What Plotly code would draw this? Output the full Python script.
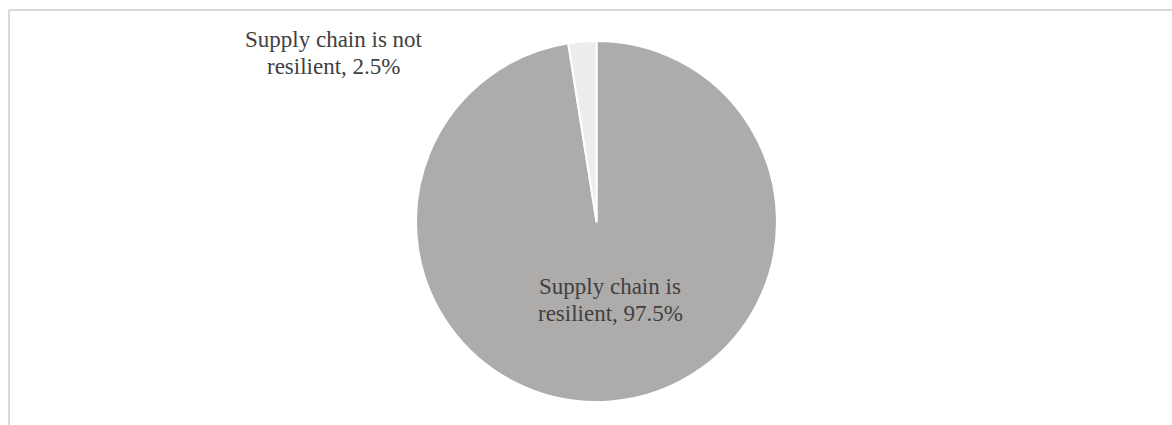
import plotly.graph_objects as go

# Survey result: share of respondents by supply-chain resilience
categories = ["Supply chain is resilient", "Supply chain is not resilient"]
shares = [97.5, 2.5]
# how each category label is split across lines
label_lines = [["Supply chain is", "resilient"], ["Supply chain is not", "resilient"]]

slice_colors = ["#aeabab", "#ededed"]
text_color = "#404040"
font_family = "Liberation Serif, Times New Roman, serif"

W, H = 1172, 425

fig = go.Figure(
    go.Pie(
        labels=categories,
        values=shares,
        sort=False,
        direction="clockwise",
        rotation=0,
        textinfo="none",
        hoverinfo="label+percent",
        marker=dict(colors=slice_colors, line=dict(color="white", width=2)),
        domain=dict(x=[416 / W, 777 / W], y=[23 / H, 384 / H]),
        showlegend=False,
    )
)

# label anchor points (pixel centre x, first-line baseline y from top)
anchors = [(610, 296), (334, 49)]
line_gap = 27
font_size = 23

annotations = []
for lines, share, (cx, base) in zip(label_lines, shares, anchors):
    texts = lines[:-1] + [f"{lines[-1]}, {share:.1f}%"]
    for i, t in enumerate(texts):
        y_px = base + i * line_gap
        annotations.append(
            dict(
                text=t,
                x=cx / W,
                y=1 - y_px / H,
                xref="paper",
                yref="paper",
                xanchor="center",
                yanchor="bottom",
                yshift=-5,
                showarrow=False,
                font=dict(family=font_family, size=font_size, color=text_color),
            )
        )

fig.update_layout(
    width=W,
    height=H,
    margin=dict(l=0, r=0, t=0, b=0),
    paper_bgcolor="white",
    plot_bgcolor="white",
    annotations=annotations,
    shapes=[
        dict(type="line", xref="paper", yref="paper",
             x0=9 / W, x1=1.0, y0=1 - 10 / H, y1=1 - 10 / H,
             line=dict(color="#d9d9d9", width=2)),
        dict(type="line", xref="paper", yref="paper",
             x0=9 / W, x1=9 / W, y0=0, y1=1 - 10 / H,
             line=dict(color="#d9d9d9", width=2)),
    ],
)

fig.write_html("out.html")
